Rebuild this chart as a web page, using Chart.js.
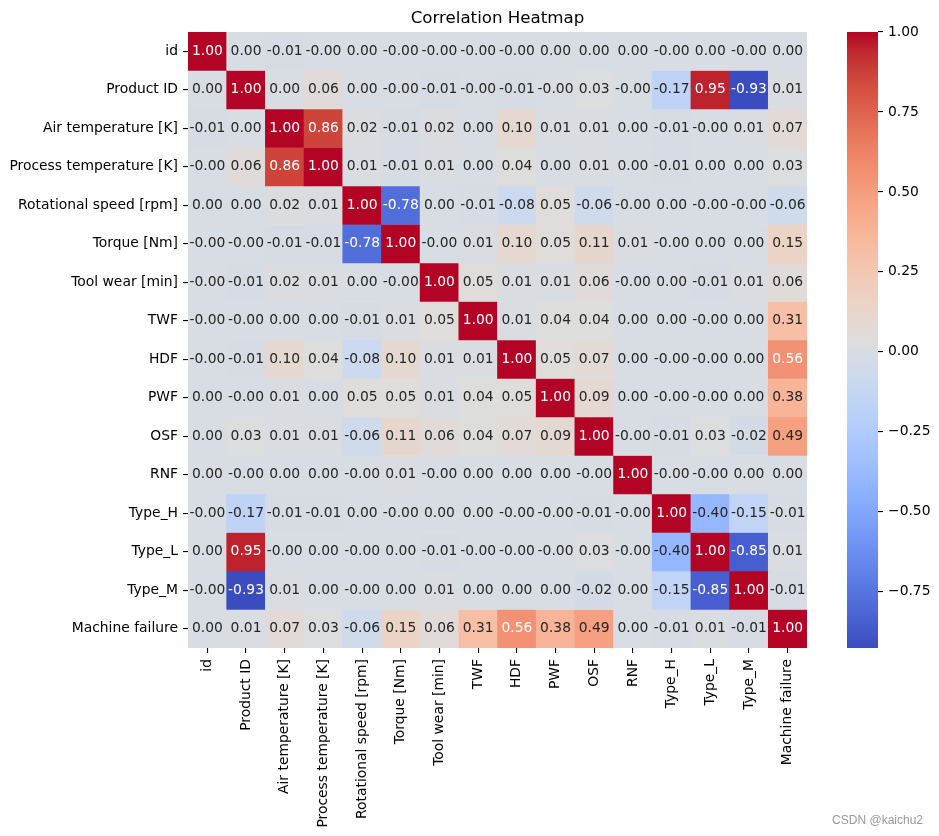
<!DOCTYPE html>
<html><head><meta charset="utf-8">
<script src="https://cdn.jsdelivr.net/npm/chart.js@4.4.1/dist/chart.umd.min.js"></script>
<style>
html,body{margin:0;padding:0;background:#fff;}
#wrap{position:relative;width:939px;height:836px;overflow:hidden;}
#main{position:absolute;left:0;top:0;}
#cbar{position:absolute;left:847px;top:0;}
#wm{position:absolute;right:16px;top:813px;font:12px "Liberation Sans",Arial,sans-serif;color:#999;white-space:nowrap;}
</style></head><body>
<div id="wrap">
<canvas id="main" width="939" height="836"></canvas>
<canvas id="cbar" width="92" height="836"></canvas>
<div id="wm">CSDN @kaichu2</div>
</div>
<script>
// ---- data ----
const labels = ["id","Product ID","Air temperature [K]","Process temperature [K]","Rotational speed [rpm]","Torque [Nm]","Tool wear [min]","TWF","HDF","PWF","OSF","RNF","Type_H","Type_L","Type_M","Machine failure"];

const rowId          = [1.00, 0.00,-0.01,-0.00, 0.00,-0.00,-0.00,-0.00,-0.00, 0.00, 0.00, 0.00,-0.00, 0.00,-0.00, 0.00];
const rowProductId   = [0.00, 1.00, 0.00, 0.06, 0.00,-0.00,-0.01,-0.00,-0.01,-0.00, 0.03,-0.00,-0.17, 0.95,-0.93, 0.01];
const rowAirTemp     = [-0.01, 0.00, 1.00, 0.86, 0.02,-0.01, 0.02, 0.00, 0.10, 0.01, 0.01, 0.00,-0.01,-0.00, 0.01, 0.07];
const rowProcessTemp = [-0.00, 0.06, 0.86, 1.00, 0.01,-0.01, 0.01, 0.00, 0.04, 0.00, 0.01, 0.00,-0.01, 0.00, 0.00, 0.03];
const rowRotSpeed    = [0.00, 0.00, 0.02, 0.01, 1.00,-0.78, 0.00,-0.01,-0.08, 0.05,-0.06,-0.00, 0.00,-0.00,-0.00,-0.06];
const rowTorque      = [-0.00,-0.00,-0.01,-0.01,-0.78, 1.00,-0.00, 0.01, 0.10, 0.05, 0.11, 0.01,-0.00, 0.00, 0.00, 0.15];
const rowToolWear    = [-0.00,-0.01, 0.02, 0.01, 0.00,-0.00, 1.00, 0.05, 0.01, 0.01, 0.06,-0.00, 0.00,-0.01, 0.01, 0.06];
const rowTWF         = [-0.00,-0.00, 0.00, 0.00,-0.01, 0.01, 0.05, 1.00, 0.01, 0.04, 0.04, 0.00, 0.00,-0.00, 0.00, 0.31];
const rowHDF         = [-0.00,-0.01, 0.10, 0.04,-0.08, 0.10, 0.01, 0.01, 1.00, 0.05, 0.07, 0.00,-0.00,-0.00, 0.00, 0.56];
const rowPWF         = [0.00,-0.00, 0.01, 0.00, 0.05, 0.05, 0.01, 0.04, 0.05, 1.00, 0.09, 0.00,-0.00,-0.00, 0.00, 0.38];
const rowOSF         = [0.00, 0.03, 0.01, 0.01,-0.06, 0.11, 0.06, 0.04, 0.07, 0.09, 1.00,-0.00,-0.01, 0.03,-0.02, 0.49];
const rowRNF         = [0.00,-0.00, 0.00, 0.00,-0.00, 0.01,-0.00, 0.00, 0.00, 0.00,-0.00, 1.00,-0.00,-0.00, 0.00, 0.00];
const rowTypeH       = [-0.00,-0.17,-0.01,-0.01, 0.00,-0.00, 0.00, 0.00,-0.00,-0.00,-0.01,-0.00, 1.00,-0.40,-0.15,-0.01];
const rowTypeL       = [0.00, 0.95,-0.00, 0.00,-0.00, 0.00,-0.01,-0.00,-0.00,-0.00, 0.03,-0.00,-0.40, 1.00,-0.85, 0.01];
const rowTypeM       = [-0.00,-0.93, 0.01, 0.00,-0.00, 0.00, 0.01, 0.00, 0.00, 0.00,-0.02, 0.00,-0.15,-0.85, 1.00,-0.01];
const rowMachFail    = [0.00, 0.01, 0.07, 0.03,-0.06, 0.15, 0.06, 0.31, 0.56, 0.38, 0.49, 0.00,-0.01, 0.01,-0.01, 1.00];

const matrix = [rowId,rowProductId,rowAirTemp,rowProcessTemp,rowRotSpeed,rowTorque,rowToolWear,rowTWF,rowHDF,rowPWF,rowOSF,rowRNF,rowTypeH,rowTypeL,rowTypeM,rowMachFail];

const colorbarMin = -0.926;
const colorbarMax = 1.00;
const colorbarTicks = [-0.75,-0.50,-0.25,0.00,0.25,0.50,0.75,1.00];

// ---- coolwarm colormap ----
const CW = [[59,76,192],[68,90,204],[77,104,215],[87,117,225],[98,130,234],[108,142,241],[119,154,247],[130,165,251],[141,176,254],[152,185,255],[163,194,255],[174,201,253],[184,208,249],[194,213,244],[204,217,238],[213,219,230],[221,221,221],[229,216,209],[236,211,197],[241,204,185],[245,196,173],[247,187,160],[247,177,148],[247,166,135],[244,154,123],[241,141,111],[236,127,99],[229,112,88],[222,96,77],[213,80,66],[203,62,56],[192,40,47],[180,4,38]];
function coolwarm(t){
  t = Math.max(0, Math.min(1, t));
  const p = t*(CW.length-1); const i = Math.min(Math.floor(p), CW.length-2); const f = p-i;
  return CW[i].map((c,k)=>Math.round(c+(CW[i+1][k]-c)*f));
}
function colorFor(v){ return coolwarm((v-colorbarMin)/(colorbarMax-colorbarMin)); }
function rgb(c){ return `rgb(${c[0]},${c[1]},${c[2]})`; }
function lum(c){
  const l = c.map(x=>{x/=255; return x<=0.03928? x/12.92 : Math.pow((x+0.055)/1.055,2.4);});
  return 0.2126*l[0]+0.7152*l[1]+0.0722*l[2];
}
function fmt(v){ const neg = v<0 || Object.is(v,-0); return (neg?'-':'')+Math.abs(v).toFixed(2); }

const FS = 13.89;
const FONT = {family:'"DejaVu Sans", sans-serif', size:FS};

const annot = {
  id:'annot',
  afterDatasetsDraw(chart){
    const ctx = chart.ctx;
    ctx.save();
    ctx.font = `${FS}px "DejaVu Sans", sans-serif`;
    ctx.textAlign='center'; ctx.textBaseline='middle';
    chart.data.datasets.forEach((ds,i)=>{
      const meta = chart.getDatasetMeta(i);
      meta.data.forEach((el,j)=>{
        const v = matrix[i][j];
        ctx.fillStyle = lum(colorFor(v)) > 0.408 ? 'rgb(38,38,38)' : '#ffffff';
        const p = el.getProps(['x','y','base'], true);
        ctx.fillText(fmt(v), p.x, (p.y+p.base)/2);
      });
    });
    ctx.restore();
  }
};

new Chart(document.getElementById('main'), {
  type:'bar',
  data:{
    labels: labels,
    datasets: matrix.map((row,i)=>({
      label: labels[i],
      data: row.map(()=>1),
      backgroundColor: row.map(v=>rgb(colorFor(v))),
      borderWidth:0,
      barPercentage:1, categoryPercentage:1,
      stack:'s'
    }))
  },
  options:{
    responsive:false, animation:false, devicePixelRatio:1,
    layout:{padding:{left:0,right:132,top:0,bottom:0}},
    plugins:{
      legend:{display:false}, tooltip:{enabled:false},
      title:{display:true, text:'Correlation Heatmap', fullSize:false, color:'#000',
        font:{family:'"DejaVu Sans", sans-serif', size:16.67, weight:'normal'},
        padding:{top:9,bottom:3}}
    },
    scales:{
      x:{
        type:'category', stacked:true, offset:true,
        grid:{offset:false, drawOnChartArea:false, drawTicks:true, tickLength:5, color:'#000', lineWidth:1.1},
        border:{display:false},
        ticks:{autoSkip:false, minRotation:90, maxRotation:90, padding:6, color:'#000', font:FONT},
        afterFit:(s)=>{ s.height = 188; }
      },
      y:{
        type:'linear', stacked:true, reverse:true, min:0, max:labels.length,
        grid:{drawOnChartArea:false, drawTicks:true, tickLength:5, color:'#000', lineWidth:1.1},
        border:{display:false},
        afterBuildTicks:(s)=>{ s.ticks = labels.map((_,i)=>({value:i+0.5})); },
        ticks:{autoSkip:false, padding:5, color:'#000', font:FONT, callback:(v,idx)=>labels[idx]},
        afterFit:(s)=>{ s.width = 188; }
      }
    }
  },
  plugins:[annot]
});

// ---- colorbar ----
new Chart(document.getElementById('cbar'), {
  type:'bar',
  data:{
    labels:['colorbar'],
    datasets:[{
      data:[[colorbarMin, colorbarMax]],
      borderWidth:0, barPercentage:1, categoryPercentage:1,
      backgroundColor:(ctx)=>{
        const chart = ctx.chart; const ys = chart.scales.y;
        if(!chart.chartArea || !ys) return 'rgb(221,221,221)';
        const g = chart.ctx.createLinearGradient(0, ys.getPixelForValue(colorbarMin), 0, ys.getPixelForValue(colorbarMax));
        CW.forEach((c,k)=>g.addColorStop(k/(CW.length-1), rgb(c)));
        return g;
      }
    }]
  },
  options:{
    responsive:false, animation:false, devicePixelRatio:1,
    layout:{padding:{left:0,right:0,top:32,bottom:188}},
    plugins:{legend:{display:false}, tooltip:{enabled:false}},
    scales:{
      x:{display:false},
      y:{
        type:'linear', position:'right', min:colorbarMin, max:colorbarMax,
        grid:{drawOnChartArea:false, drawTicks:true, tickLength:5, color:'#000', lineWidth:1.1},
        border:{display:false},
        afterBuildTicks:(s)=>{ s.ticks = colorbarTicks.map(v=>({value:v})); },
        ticks:{padding:5, color:'#000', font:FONT, callback:(v)=>(v<0?'\u2212':'')+Math.abs(v).toFixed(2)},
        afterFit:(s)=>{ s.width = 61; }
      }
    }
  }
});
</script>
</body></html>
